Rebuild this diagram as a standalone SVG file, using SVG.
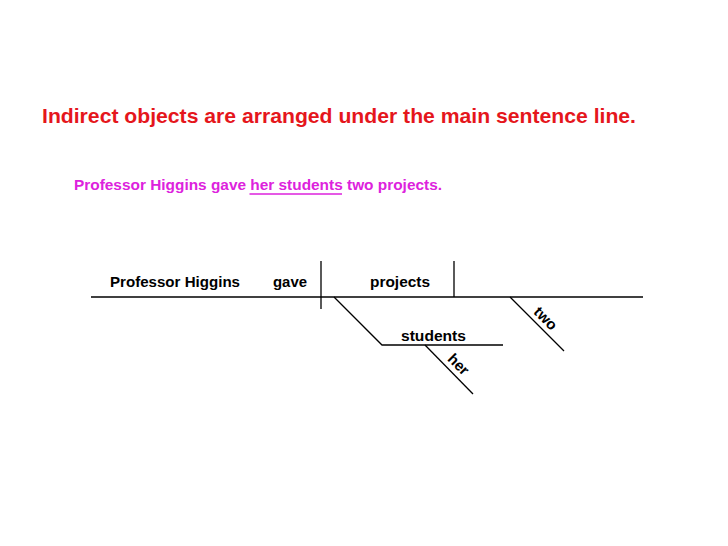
<svg xmlns="http://www.w3.org/2000/svg" width="728" height="546" viewBox="0 0 728 546">
<style>
.t{font-family:"Liberation Sans",Arial,sans-serif;font-weight:bold}
.lbl{font-size:15px;fill:#000}
.ln{stroke:#000;stroke-width:1.3;fill:none}
</style>
<rect width="728" height="546" fill="#fff"/>
<text class="t" x="42" y="123" font-size="21" fill="#e5161c" textLength="594" lengthAdjust="spacingAndGlyphs">Indirect objects are arranged under the main sentence line.</text>
<text class="t" x="74" y="190" font-size="15" fill="#dd22dd" textLength="368" lengthAdjust="spacingAndGlyphs">Professor Higgins gave her students two projects.</text>
<line x1="249.5" y1="194" x2="342" y2="194" stroke="#dd22dd" stroke-width="1.5"/>
<g id="connectors">
<line class="ln" x1="91" y1="297" x2="643" y2="297"/>
<line class="ln" x1="321" y1="261" x2="321" y2="309"/>
<line class="ln" x1="454" y1="261" x2="454" y2="297"/>
<polyline class="ln" points="334,297 382,345 503,345"/>
<line class="ln" x1="425" y1="345" x2="473" y2="394"/>
<line class="ln" x1="510" y1="297" x2="564" y2="351"/>
</g>
<g id="subject"><text class="t lbl" x="110" y="287" textLength="130" lengthAdjust="spacingAndGlyphs">Professor Higgins</text></g>
<g id="verb"><text class="t lbl" x="273" y="287" textLength="34" lengthAdjust="spacingAndGlyphs">gave</text></g>
<g id="object"><text class="t lbl" x="370" y="287" textLength="60" lengthAdjust="spacingAndGlyphs">projects</text></g>
<g id="indirect"><text class="t lbl" x="401" y="341" textLength="65" lengthAdjust="spacingAndGlyphs">students</text></g>
<g id="her"><text class="t lbl" font-size="16" text-anchor="middle" transform="translate(455,368) rotate(45)">her</text></g>
<g id="two"><text class="t lbl" font-size="16" text-anchor="middle" transform="translate(542,322) rotate(45)">two</text></g>
</svg>
